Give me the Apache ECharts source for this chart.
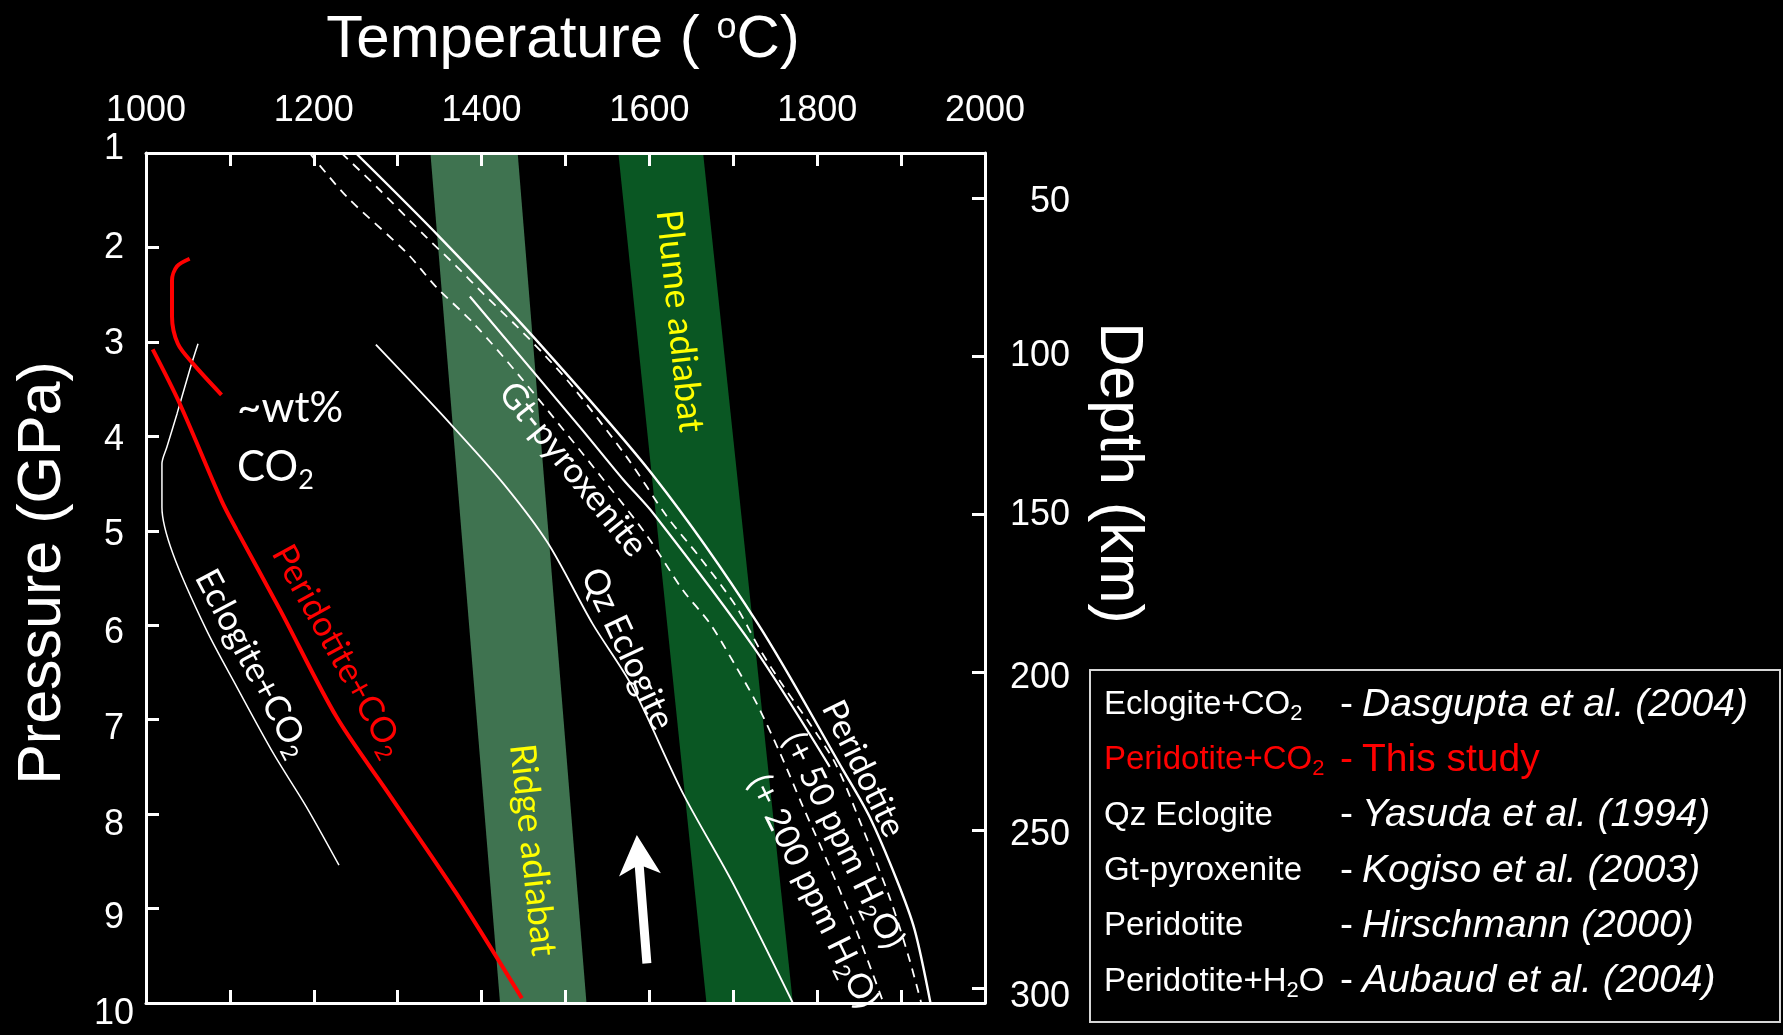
<!DOCTYPE html>
<html>
<head>
<meta charset="utf-8">
<title>Solidi and adiabats</title>
<script src="https://cdn.jsdelivr.net/npm/echarts@6/dist/echarts.min.js"></script>
<style>
  html, body { margin: 0; padding: 0; background: #000; }
  #chart { width: 1783px; height: 1035px; }
</style>
</head>
<body>
<div id="chart"></div>
<script>
// ---- data: [temperature °C, pressure GPa] ----
const peridotiteCO2 = [[1008, 3.08], [1040, 3.65], [1090, 4.68], [1108, 4.99], [1160, 5.84], [1227, 6.97], [1289, 7.78], [1370, 8.84], [1448, 9.95]];
const co2Contour = [[1052, 2.12], [1037, 2.20], [1031, 2.35], [1031, 2.73], [1038, 3.02], [1056, 3.23], [1090, 3.56]];
const eclogiteCO2 = [[1062, 3.02], [1052, 3.30], [1037, 3.76], [1025, 4.11], [1019, 4.29], [1019, 4.75], [1032, 5.24], [1072, 6.05], [1108, 6.65], [1152, 7.36], [1191, 7.92], [1230, 8.54]];
const qzEclogite = [[1274, 3.03], [1362, 3.86], [1426, 4.50], [1479, 5.13], [1532, 5.98], [1579, 6.64], [1640, 7.78], [1700, 8.74], [1771, 10.0]];
const gtPyroxenite = [[1386, 2.52], [1517, 3.90], [1569, 4.46], [1605, 4.82], [1724, 6.23], [1815, 7.50]];
const peridotite = [[1250, 1.0], [1350, 1.89], [1462, 2.95], [1605, 4.42], [1729, 5.98], [1830, 7.52], [1862, 8.02], [1895, 8.70], [1916, 9.22], [1935, 10.0]];
const peridotite50ppm = [[1233, 1.0], [1275, 1.36], [1334, 1.89], [1370, 2.20], [1402, 2.49], [1438, 2.80], [1473, 3.12], [1509, 3.48], [1573, 4.22], [1621, 4.85], [1660, 5.28], [1704, 5.81], [1732, 6.26], [1760, 6.65], [1791, 7.04], [1822, 7.47], [1852, 8.10], [1887, 8.90], [1909, 9.51], [1924, 10.0]];
const peridotite200ppm = [[1195, 1.0], [1239, 1.46], [1311, 2.06], [1346, 2.42], [1390, 2.80], [1446, 3.37], [1549, 4.50], [1597, 5.05], [1640, 5.63], [1672, 5.98], [1704, 6.45], [1728, 6.83], [1756, 7.36], [1783, 7.92], [1815, 8.56], [1847, 9.24], [1879, 10.0]];
// adiabat bands: corner points (top-left, top-right, bottom-right, bottom-left)
const ridgeAdiabat = [[1339, 1], [1443, 1], [1525, 10], [1422, 10]];
const plumeAdiabat = [[1563, 1], [1664, 1], [1771, 10], [1668, 10]];
// upwelling arrow: tail, tip
const upwellingArrow = [[1597, 9.58], [1585, 8.22]];

// ---- axes ----
const tempRange = [1000, 2000];
const tempLabels = [1000, 1200, 1400, 1600, 1800, 2000];
const pressureRange = [1, 10];
const pressureTicks = [1, 2, 3, 4, 5, 6, 7, 8, 9, 10];
const depthRange = [35.8, 304.6];
const depthTicks = [50, 100, 150, 200, 250, 300];

// ---- reference table ----
const legendNames = ['Eclogite+CO{s|2}', 'Peridotite+CO{s|2}', 'Qz Eclogite', 'Gt-pyroxenite', 'Peridotite', 'Peridotite+H{s|2}O'];
const legendRefs = ['Dasgupta et al. (2004)', 'This study', 'Yasuda et al. (1994)', 'Kogiso et al. (2003)', 'Hirschmann (2000)', 'Aubaud et al. (2004)'];

const WHITE = '#ffffff';
const RED = '#ff0000';
const YELLOW = '#ffff00';
const ARIAL = '"Liberation Sans", Arial, Helvetica, sans-serif';
const HUMANIST = 'Lato, "Noto Sans", sans-serif';

const chart = echarts.init(document.getElementById('chart'));

const frameLine = { show: true, lineStyle: { color: WHITE, width: 3 } };
const frameTick = { show: true, inside: true, length: 13, lineStyle: { color: WHITE, width: 3 } };
const tickText = { color: WHITE, fontFamily: ARIAL, fontSize: 36 };

// small per-label vertical nudges of the tick numbers (px, + is down)
const pressureNudge = [-4, 1, 2, 4, 4, 8, 9, 11, 10, 11];
const depthNudge = [4, 0, 1, 6, 5, 9];
function nudgeRich(prefix, values, nudges) {
  const rich = {};
  values.forEach((v, i) => {
    const n = nudges[i];
    rich[prefix + i] = { padding: n >= 0 ? [2 * n, 0, 0, 0] : [0, 0, -2 * n, 0] };
  });
  return rich;
}

function solidus(name, data, lineStyle) {
  return {
    type: 'line', name, data, z: 3, silent: true,
    symbol: 'none', showSymbol: false, smooth: 0.3,
    lineStyle
  };
}

function band(name, corners, color) {
  return {
    type: 'custom', name, z: 1, silent: true,
    data: [corners.flat()],
    encode: { x: [0, 2, 4, 6], y: [1, 3, 5, 7] },
    renderItem(params, api) {
      const pts = [];
      for (let i = 0; i < 4; i++) pts.push(api.coord([api.value(2 * i), api.value(2 * i + 1)]));
      return { type: 'polygon', shape: { points: pts }, style: { fill: color } };
    }
  };
}

// curve annotations
function note(text, at, rotate, opts = {}) {
  return {
    value: at,
    label: Object.assign({
      show: true,
      position: 'inside',
      rotate,
      formatter: text,
      color: WHITE,
      fontFamily: HUMANIST,
      fontSize: 35,
      textBorderWidth: 0,
      textShadowBlur: 0,
      rich: { s: { fontSize: 23, padding: [20, 0, 0, 0] } }
    }, opts)
  };
}

const notes = [
  note('Plume adiabat', [1636, 2.78], -84, { color: YELLOW, fontSize: 36 }),
  note('Ridge adiabat', [1461, 8.38], -84, { color: YELLOW, fontSize: 36 }),
  note('Gt-pyroxenite', [1509, 4.35], -51),
  note('Qz Eclogite', [1574, 6.25], -65),
  note('Eclogite+CO{s|2}', [1127, 6.40], -62),
  note('Peridotite+CO{s|2}', [1229, 6.27], -61, { color: RED }),
  note('Peridotite', [1855, 7.52], -64, { fontSize: 34 }),
  note('(+ 50 ppm H{s|2}O)', [1831, 8.28], -64, { fontSize: 34 }),
  note('(+ 200 ppm H{s|2}O)', [1795, 8.82], -64, { fontSize: 34 }),
  note('~wt%', [1108, 3.71], 0, { position: 'right', distance: 0, fontSize: 42 }),
  note('CO{s|2}', [1108, 4.33], 0, { position: 'right', distance: 0, fontSize: 42, rich: { s: { fontSize: 27, padding: [26, 0, 0, 0] } } })
];

// reference table graphics
const tableX = 1090, tableY = 670, tableW = 690, tableH = 352;
const rowY0 = 705, rowStep = 55.3;
const tableGraphics = [{
  type: 'rect', z: 20,
  shape: { x: tableX, y: tableY, width: tableW, height: tableH },
  style: { fill: 'none', stroke: '#d6d6d6', lineWidth: 2 }
}];
legendNames.forEach((name, i) => {
  const isStudy = i === 1;
  const color = isStudy ? RED : WHITE;
  const y = rowY0 + i * rowStep;
  tableGraphics.push({
    type: 'text', z: 20, x: 1104, y,
    style: {
      text: name, fill: color, font: '33px ' + ARIAL,
      verticalAlign: 'middle', align: 'left',
      rich: { s: { fontSize: 22, fontFamily: ARIAL, fill: color, padding: [18, 0, 0, 0] } }
    }
  });
  tableGraphics.push({
    type: 'text', z: 20, x: 1340, y,
    style: { text: '-', fill: color, font: '39px ' + ARIAL, verticalAlign: 'middle', align: 'left' }
  });
  tableGraphics.push({
    type: 'text', z: 20, x: 1362, y,
    style: {
      text: legendRefs[i], fill: color,
      font: (isStudy ? '' : 'italic ') + '39px ' + ARIAL,
      verticalAlign: 'middle', align: 'left'
    }
  });
});

const titleGraphics = [
  {
    type: 'text', z: 20, x: 563, y: 40,
    style: {
      text: 'Temperature ( {o|o}C)', fill: WHITE, font: '60px ' + ARIAL,
      align: 'center', verticalAlign: 'middle',
      rich: { o: { fontSize: 36, fontFamily: ARIAL, fill: WHITE, padding: [0, 0, 24, 0] } }
    }
  },
  {
    type: 'text', z: 20, x: 43, y: 573, rotation: Math.PI / 2,
    style: { text: 'Pressure (GPa)', fill: WHITE, font: '61px ' + ARIAL, align: 'center', verticalAlign: 'middle' }
  },
  {
    type: 'text', z: 20, x: 1118, y: 473, rotation: -Math.PI / 2,
    style: { text: 'Depth (km)', fill: WHITE, font: '61px ' + ARIAL, align: 'center', verticalAlign: 'middle' }
  }
];

const option = {
  backgroundColor: '#000000',
  animation: false,
  grid: { left: 146, top: 153, width: 839, height: 850, show: false },
  xAxis: [
    {
      type: 'value', position: 'top', min: tempRange[0], max: tempRange[1], interval: 100, z: 10,
      axisLine: frameLine, axisTick: frameTick, splitLine: { show: false },
      axisLabel: Object.assign({ margin: 24, formatter: v => (tempLabels.includes(v) ? String(v) : '') }, tickText)
    },
    {
      type: 'value', position: 'bottom', min: tempRange[0], max: tempRange[1], interval: 100, z: 10,
      axisLine: frameLine, axisTick: frameTick, splitLine: { show: false },
      axisLabel: { show: false }
    }
  ],
  yAxis: [
    {
      type: 'value', position: 'left', inverse: true, min: pressureRange[0], max: pressureRange[1], interval: 1, z: 10,
      axisLine: frameLine, axisTick: frameTick, splitLine: { show: false },
      axisLabel: Object.assign({
        margin: 32, align: 'center',
        formatter: v => {
          const i = pressureTicks.indexOf(Math.round(v));
          return i < 0 ? String(v) : '{p' + i + '|' + v + '}';
        },
        rich: nudgeRich('p', pressureTicks, pressureNudge)
      }, tickText)
    },
    {
      type: 'value', position: 'right', inverse: true, min: depthRange[0], max: depthRange[1], z: 10,
      axisLine: frameLine,
      axisTick: Object.assign({ customValues: depthTicks }, frameTick),
      splitLine: { show: false },
      axisLabel: Object.assign({
        customValues: depthTicks, margin: 85, align: 'right',
        formatter: v => {
          const i = depthTicks.indexOf(Math.round(v));
          return i < 0 ? String(v) : '{d' + i + '|' + Math.round(v) + '}';
        },
        rich: nudgeRich('d', depthTicks, depthNudge)
      }, tickText)
    }
  ],
  series: [
    band('Ridge adiabat', ridgeAdiabat, '#3f7350'),
    band('Plume adiabat', plumeAdiabat, '#0a5723'),
    solidus('Peridotite', peridotite, { color: WHITE, width: 2.4 }),
    solidus('Peridotite + 50 ppm H2O', peridotite50ppm, { color: WHITE, width: 1.8, type: [9, 7] }),
    solidus('Peridotite + 200 ppm H2O', peridotite200ppm, { color: WHITE, width: 1.8, type: [9, 7] }),
    solidus('Gt-pyroxenite', gtPyroxenite, { color: WHITE, width: 2.2 }),
    solidus('Qz Eclogite', qzEclogite, { color: WHITE, width: 1.8 }),
    solidus('Eclogite+CO2', eclogiteCO2, { color: WHITE, width: 1.5 }),
    solidus('Peridotite+CO2', peridotiteCO2, { color: RED, width: 4 }),
    solidus('CO2 contour', co2Contour, { color: RED, width: 4 }),
    {
      type: 'custom', name: 'Upwelling', z: 4, silent: true,
      data: [upwellingArrow.flat()],
      encode: { x: [0, 2], y: [1, 3] },
      renderItem(params, api) {
        const a = api.coord([api.value(0), api.value(1)]);
        const b = api.coord([api.value(2), api.value(3)]);
        const dx = b[0] - a[0], dy = b[1] - a[1];
        const len = Math.hypot(dx, dy);
        const ux = dx / len, uy = dy / len, nx = -uy, ny = ux;
        const shaft = 4.5, headLen = 40, headHalf = 21, notch = 8;
        const neck = [b[0] - ux * (headLen - notch), b[1] - uy * (headLen - notch)];
        const base = [b[0] - ux * headLen, b[1] - uy * headLen];
        const pts = [
          [a[0] + nx * shaft, a[1] + ny * shaft],
          [neck[0] + nx * shaft, neck[1] + ny * shaft],
          [base[0] + nx * headHalf, base[1] + ny * headHalf],
          b,
          [base[0] - nx * headHalf, base[1] - ny * headHalf],
          [neck[0] - nx * shaft, neck[1] - ny * shaft],
          [a[0] - nx * shaft, a[1] - ny * shaft]
        ];
        return { type: 'polygon', shape: { points: pts }, style: { fill: WHITE } };
      }
    },
    {
      type: 'scatter', name: 'notes', z: 6, silent: true,
      symbol: 'circle', symbolSize: 1,
      itemStyle: { color: 'rgba(0,0,0,0)', opacity: 1 },
      data: notes
    }
  ],
  graphic: titleGraphics.concat(tableGraphics)
};

chart.setOption(option);
</script>
</body>
</html>
